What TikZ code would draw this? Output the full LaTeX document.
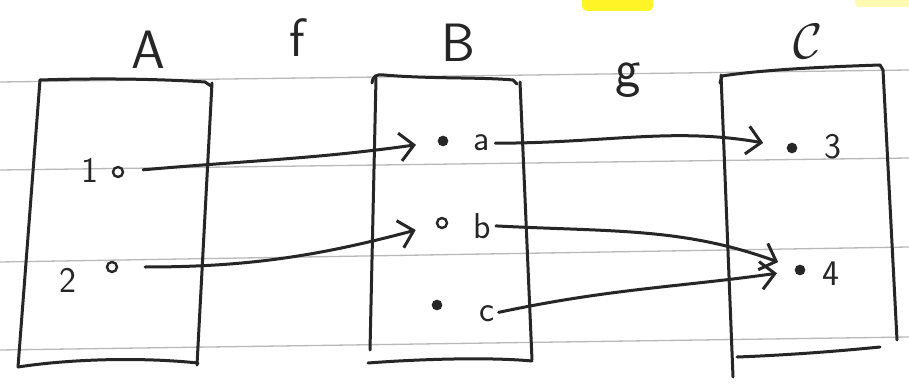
\documentclass[tikz,border=0pt]{standalone}
\usetikzlibrary{arrows.meta}
\begin{document}
\begin{tikzpicture}[x=1pt,y=1pt,
  ink/.style={line width=3pt, line cap=round, line join=round, black!85},
  rule/.style={line width=1.3pt, gray!55},
  settitle/.style={font=\sffamily\fontsize{54}{58}\selectfont, text=black!85, inner sep=0pt},
  elem/.style={font=\sffamily\fontsize{36}{40}\selectfont, text=black!85, inner sep=0pt},
  opendot/.style={circle, draw=black!85, line width=2.4pt, fill=white, minimum size=10pt, inner sep=0pt},
  fulldot/.style={circle, draw=black!85, line width=2pt, fill=black!85, minimum size=8.5pt, inner sep=0pt},
  maparrow/.style={ink, -{Straight Barb[length=14pt, width=28pt, line width=3pt]}}
]
\useasboundingbox (0,0) rectangle (909,383);
\fill[white] (0,0) rectangle (909,383);

% highlighter marks along the top edge
\fill[yellow!85, rounded corners=5pt] (582,372) rectangle (653,390);
\fill[yellow!30, rounded corners=4pt] (855,376) rectangle (915,390);

% ruled lines of the notebook page
\draw[rule] (0,301) -- (909,313);
\draw[rule] (0,213) -- (909,225);
\draw[rule] (0,121) -- (909,136);
\draw[rule] (0,33)  -- (909,46);

% set A
\draw[ink] (40,303) -- (18,16);
\draw[ink] (40,303) .. controls (100,305) and (160,304) .. (205,301) -- (211,297);
\draw[ink] (212,300) -- (197,18);
\draw[ink] (18,16) .. controls (70,24) and (140,26) .. (198,20);

% set B
\draw[ink] (372,300) .. controls (373,307) and (376,309) .. (384,308)
           .. controls (430,304) and (480,306) .. (513,303) -- (517,299);
\draw[ink] (376,305) -- (370,33);
\draw[ink] (520,301) -- (532,23);
\draw[ink] (368,20) .. controls (420,24) and (490,26) .. (532,22);

% set C
\draw[ink] (720,300) -- (722,307) .. controls (760,313) and (820,316) .. (880,318) -- (883,313);
\draw[ink] (721,308) -- (733,6);
\draw[ink] (883,313) -- (897,43);
\draw[ink] (737,26) .. controls (790,28) and (840,32) .. (880,36);

% set names and map names
\node[settitle] (tA) at (148,333) {A};
\node[settitle] (tf) at (297,345) {f};
\node[settitle] (tB) at (458,340) {B};
\node[settitle] (tg) at (628,303) {g};
\node[settitle, scale=2] (tC) at (808,341) {$\mathcal{C}$};

% elements of A
\node[elem] (l1) at (90,213) {1};
\node[opendot] (p1) at (118,211) {};
\node[elem] (l2) at (68,103) {2};
\node[opendot] (p2) at (112,116) {};

% elements of B
\node[fulldot] (pa) at (443,242) {};
\node[elem, anchor=base] (la) at (482,232) {a};
\node[opendot] (pb) at (442,160) {};
\node[elem, anchor=base] (lb) at (482,145) {b};
\node[fulldot] (pc) at (437,78) {};
\node[elem, anchor=base] (lc) at (487,62) {c};

% elements of C
\node[fulldot] (p3) at (792,235) {};
\node[elem] (l3) at (833,236) {3};
\node[fulldot] (p4) at (800,113) {};
\node[elem] (l4) at (831,109) {4};

% f : A -> B
\draw[maparrow, shorten <=19pt, shorten >=22pt] (p1) to[out=5, in=188] (pa);
\draw[maparrow, shorten <=27pt, shorten >=21pt] (p2) to[out=0, in=195] (pb);

% g : B -> C
\draw[maparrow, shorten <=5pt, shorten >=24pt] (la.east) to[out=0, in=170] (p3);
\draw[maparrow, shorten <=5pt, shorten >=18pt] (lb.east) to[out=-3, in=160] (p4);
\draw[maparrow, shorten <=4pt, shorten >=18pt] (lc.east) to[out=12, in=188] (p4);
\end{tikzpicture}
\end{document}
